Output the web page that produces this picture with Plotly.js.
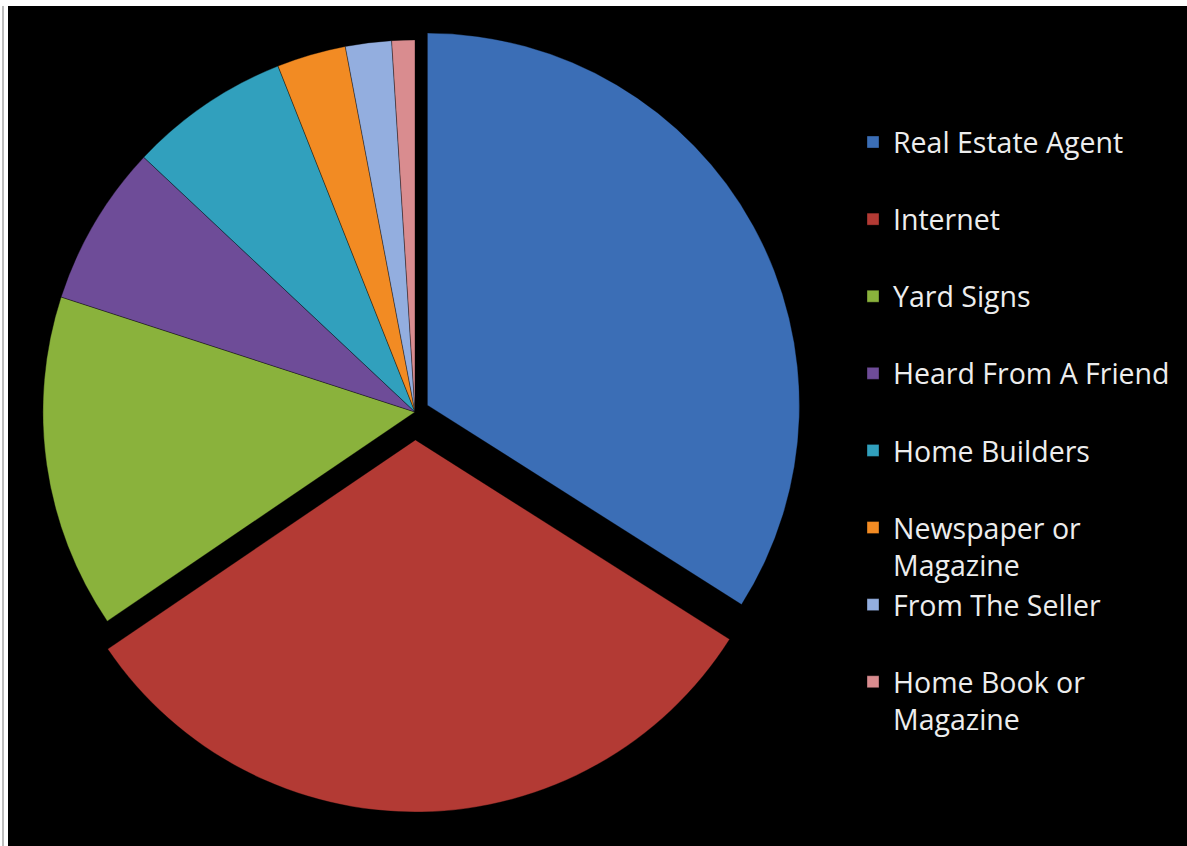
<!DOCTYPE html>
<html>
<head>
<meta charset="utf-8">
<script src="https://cdn.plot.ly/plotly-3.0.1.min.js"></script>
<style>
  html, body { margin: 0; padding: 0; background: #000; }
  #chart { width: 1187px; height: 846px; }
</style>
</head>
<body>
<div id="chart"></div>
<script>
// ---- data ----
const labels = [
  "Real Estate Agent",
  "Internet",
  "Yard Signs",
  "Heard From A Friend",
  "Home Builders",
  "Newspaper or<br>Magazine",
  "From The Seller",
  "Home Book or<br>Magazine"
];
const values = [34, 31.5, 14.5, 7, 7, 3, 2, 1];
const colors = ["#3B6EB6", "#B33A34", "#8AB23C", "#6E4C98", "#31A0BD", "#F28B23", "#93AEDF", "#D98C8F"];
const pulls = [0.038, 0.075, 0, 0, 0, 0, 0, 0];

// legend entries all take two lines so that spacing stays even
const legendLabels = labels.map(l => l.indexOf("<br>") >= 0 ? l : l + "<br> ");

const W = 1187, H = 846;

const trace = {
  type: "pie",
  labels: legendLabels,
  values: values,
  sort: false,
  direction: "clockwise",
  rotation: 0,
  pull: pulls,
  textinfo: "none",
  hoverinfo: "label+percent",
  marker: { colors: colors, line: { color: "rgba(0,0,0,0.35)", width: 1 } },
  domain: { x: [15 / W, 815 / W], y: [1 - 812 / H, 1 - 12 / H] }
};

const layout = {
  width: W,
  height: H,
  margin: { l: 0, r: 0, t: 0, b: 0 },
  paper_bgcolor: "#000000",
  showlegend: true,
  legend: {
    x: 853 / W,
    xanchor: "left",
    y: 1 - 117 / H,
    yanchor: "top",
    valign: "top",
    bgcolor: "rgba(0,0,0,0)",
    font: { family: "'Open Sans', Lato, sans-serif", size: 28.5, color: "#EDEDED" }
  },
  shapes: [
    { type: "rect", xref: "paper", yref: "paper", x0: 0, x1: 1, y0: 1 - 6 / H, y1: 1,
      fillcolor: "#FFFFFF", line: { width: 0 }, layer: "below" },
    { type: "rect", xref: "paper", yref: "paper", x0: 0, x1: 8 / W, y0: 0, y1: 1,
      fillcolor: "#FFFFFF", line: { width: 0 }, layer: "below" },
    { type: "rect", xref: "paper", yref: "paper", x0: 2 / W, x1: 4 / W, y0: 0, y1: 1 - 6 / H,
      fillcolor: "#BDBDBD", line: { width: 0 }, layer: "below" }
  ]
};

Plotly.newPlot("chart", [trace], layout, { displayModeBar: false, staticPlot: true });
</script>
</body>
</html>
